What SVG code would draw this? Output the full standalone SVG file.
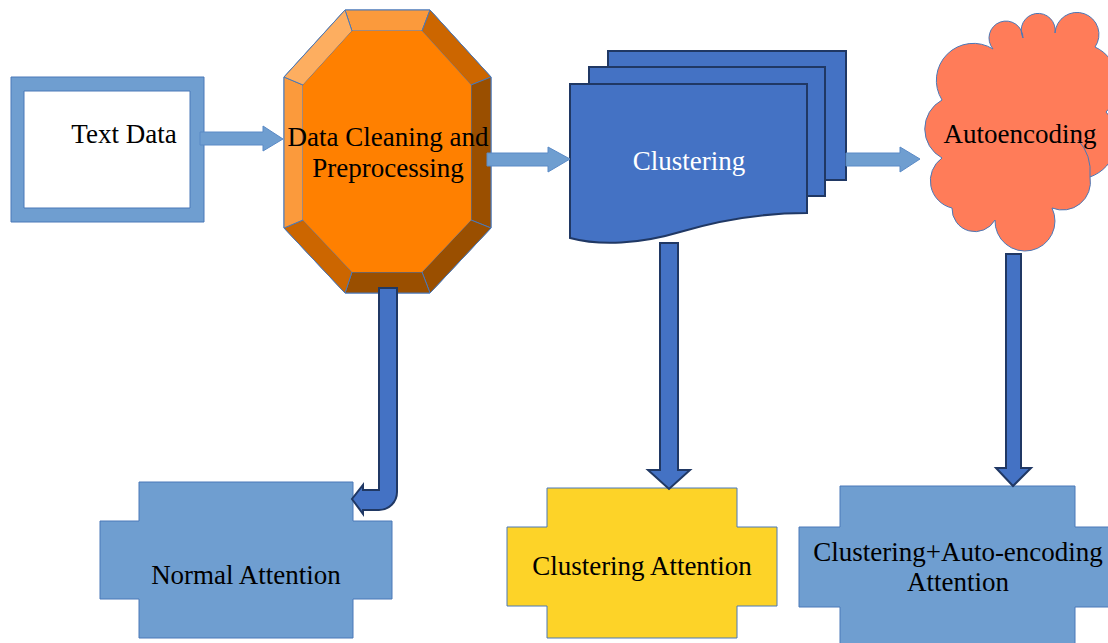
<svg xmlns="http://www.w3.org/2000/svg" width="1108" height="643" viewBox="0 0 1108 643">
<style>
.t{font-family:"Liberation Serif","Times New Roman",serif;font-size:27px;fill:#000;text-anchor:middle}
.w{fill:#fff}
.harrow{fill:#6F9ED0;stroke:#5A8AC6;stroke-width:1}
.varrow{fill:#4472C4;stroke:#203864;stroke-width:2;stroke-linejoin:miter}
.fac{stroke:#4A78B8;stroke-width:1;stroke-linejoin:round}
.plus{stroke:#4A78B8;stroke-width:1}
.doc{fill:#4472C4;stroke:#203864;stroke-width:2}
</style>
<rect width="1108" height="643" fill="#fff"/>
<g id="text-data">
<path d="M11,77H204V222H11Z M24,91V208H190V91Z" fill="#6F9ED0" fill-rule="evenodd" stroke="#4A78B8" stroke-width="1"/>
<text class="t" x="124" y="143">Text Data</text>
</g>
<g id="data-cleaning">
<polygon class="fac" fill="#FF8000" points="345,10 430,10 491,77 491,228 430,293 345,293 284,228 284,77"/>
<polygon class="fac" fill="#FB9A3C" points="345,10 430,10 422,31 352,31"/>
<polygon class="fac" fill="#CC6600" points="430,10 491,77 471,85 422,31"/>
<polygon class="fac" fill="#9A4F00" points="491,77 491,228 471,220 471,85"/>
<polygon class="fac" fill="#9A4F00" points="491,228 430,293 422,272 471,220"/>
<polygon class="fac" fill="#9A4F00" points="430,293 345,293 352,272 422,272"/>
<polygon class="fac" fill="#CC6600" points="345,293 284,228 303,220 352,272"/>
<polygon class="fac" fill="#FB9A3C" points="284,228 284,77 303,85 303,220"/>
<polygon class="fac" fill="#FDAE60" points="284,77 345,10 352,31 303,85"/>
<polygon fill="#FF8000" points="352,31 422,31 471,85 471,220 422,272 352,272 303,220 303,85"/>
<text class="t" x="388" y="146">Data Cleaning and</text>
<text class="t" x="388" y="177">Preprocessing</text>
</g>
<g id="clustering">
<rect class="doc" x="608" y="51" width="238" height="129"/>
<rect class="doc" x="589" y="67" width="236" height="129"/>
<path class="doc" d="M570,84H807V213C760,213 720,220 680,232C640,244 600,246 570,238Z"/>
<text class="t w" x="689" y="170">Clustering</text>
</g>
<g id="autoencoding">
<path d="M942,158A33,33 0 0 1 942,100A37,37 0 0 1 993,49A17,17 0 1 1 1023,38A17,17 0 1 1 1055,33A22,22 0 1 1 1095,47A40,40 0 0 1 1106,112A40,40 0 0 1 1090,177A28,28 0 0 1 1052,208A30,30 0 1 1 995,220A23,23 0 0 1 952,208A28,28 0 0 1 942,158Z" fill="#FF7C59" stroke="#4A78B8" stroke-width="1"/>
<path d="M1078,140Q1092,155 1090,177" fill="none" stroke="#4A78B8" stroke-width="1"/>
<text class="t" x="1020" y="143">Autoencoding</text>
</g>
<g id="normal-attention">
<polygon class="plus" fill="#6F9ED0" points="139,482 353,482 353,521 392,521 392,599 353,599 353,638 139,638 139,599 100,599 100,521 139,521"/>
<text class="t" x="246" y="584">Normal Attention</text>
</g>
<g id="clustering-attention">
<polygon class="plus" fill="#FDD328" points="547,488 737,488 737,527 777,527 777,606 737,606 737,638 547,638 547,606 507,606 507,527 547,527"/>
<text class="t" x="642" y="575">Clustering Attention</text>
</g>
<g id="clustering-autoencoding-attention">
<polygon class="plus" fill="#6F9ED0" points="840,486 1075,486 1075,527 1112,527 1112,607 1075,607 1075,646 840,646 840,607 799,607 799,527 840,527"/>
<text class="t" x="958" y="561">Clustering+Auto-encoding</text>
<text class="t" x="958" y="591">Attention</text>
</g>
<g id="connectors">
<polygon class="harrow" points="200,132 263,132 263,126 283,139 263,151 263,145 200,145"/>
<polygon class="harrow" points="487,153 548,153 548,147 570,159 548,172 548,166 487,166"/>
<polygon class="harrow" points="846,153 900,153 900,147 920,159 900,172 900,166 846,166"/>
<path class="varrow" d="M379,288H397V492A18,18 0 0 1 379,510H363V514L352,499L363,485V490H379Z"/>
<polygon class="varrow" points="660,243 678,243 678,470 690,470 669,489 648,470 660,470"/>
<polygon class="varrow" points="1006,254 1021,254 1021,468 1031,468 1013,486 996,468 1006,468"/>
</g>
</svg>
